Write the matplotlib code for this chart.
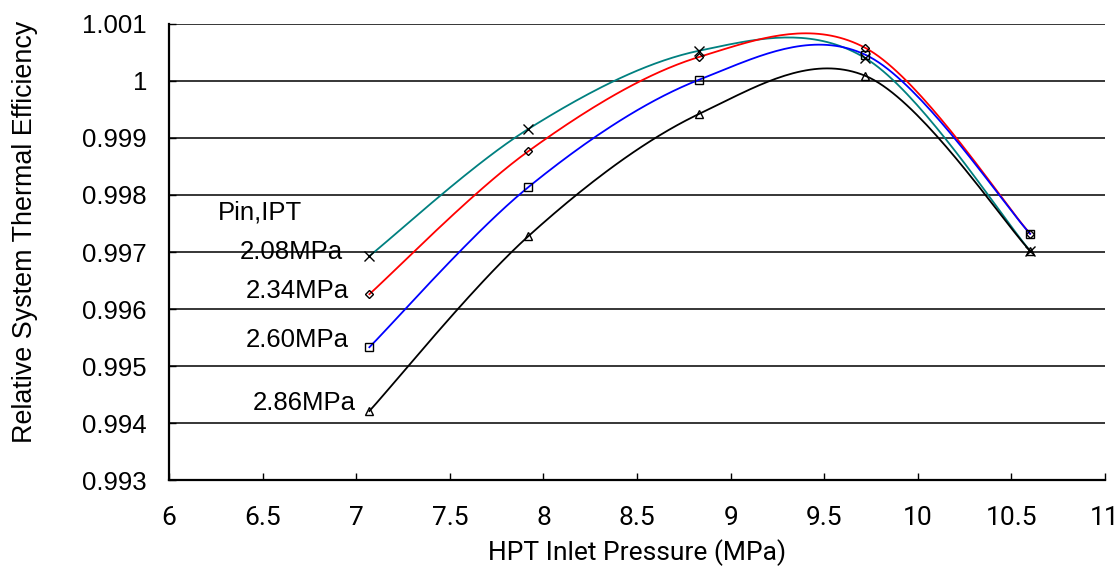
import numpy as np
import matplotlib
matplotlib.use("Agg")
import matplotlib.pyplot as plt
from matplotlib import font_manager

# HPT inlet pressure (MPa)
pressure = [7.07, 7.92, 8.83, 9.72, 10.60]

# Relative system thermal efficiency for each IPT inlet pressure
eff_208 = [0.99693, 0.99916, 1.00053, 1.00040, 0.99702]
eff_234 = [0.99626, 0.99877, 1.00042, 1.00058, 0.99732]
eff_260 = [0.99533, 0.99814, 1.00002, 1.00046, 0.99732]
eff_286 = [0.99421, 0.99728, 0.99942, 1.00009, 0.99702]

series_labels = ["2.08MPa", "2.34MPa", "2.60MPa", "2.86MPa"]
x_ticks = [6, 6.5, 7, 7.5, 8, 8.5, 9, 9.5, 10, 10.5, 11]
y_ticks = [0.993, 0.994, 0.995, 0.996, 0.997, 0.998, 0.999, 1.0, 1.001]
y_ticklabels = ["0.993", "0.994", "0.995", "0.996", "0.997", "0.998", "0.999", "1", "1.001"]


def smooth(xs, ys, n=40):
    """Catmull-Rom style smoothing (Bezier segments) through the given points."""
    p = np.column_stack([xs, ys]).astype(float)
    pts = np.vstack([p[0], p, p[-1]])
    out = []
    t = np.linspace(0, 1, n)
    for i in range(1, len(pts) - 2):
        p0, p1, p2, p3 = pts[i - 1], pts[i], pts[i + 1], pts[i + 2]
        c1 = p1 + (p2 - p0) / 6.0
        c2 = p2 - (p3 - p1) / 6.0
        seg = ((1 - t) ** 3)[:, None] * p1 + (3 * (1 - t) ** 2 * t)[:, None] * c1 \
            + (3 * (1 - t) * t ** 2)[:, None] * c2 + (t ** 3)[:, None] * p2
        out.append(seg if i == 1 else seg[1:])
    s = np.vstack(out)
    return s[:, 0], s[:, 1]


installed = {f.name for f in font_manager.fontManager.ttflist}
narrow = "Liberation Sans Narrow" if "Liberation Sans Narrow" in installed else "Roboto"

plt.rcParams["font.family"] = ["Liberation Sans", "DejaVu Sans"]

fig = plt.figure(figsize=(11.2, 5.67), dpi=100)
ax = fig.add_axes([0.151, 0.1534, 0.8356, 0.8043])

styles = [
    (eff_208, "#008080", "x", 7),
    (eff_234, "#ff0000", "D", 4.5),
    (eff_260, "#0000ff", "s", 6),
    (eff_286, "#000000", "^", 6),
]

for ys, color, marker, ms in styles:
    sx, sy = smooth(pressure, ys)
    ax.plot(sx, sy, color=color, lw=1.3, zorder=3)
    ax.plot(pressure, ys, linestyle="none", marker=marker, ms=ms,
            mfc="none", mec="black", mew=1.0, zorder=4)

ax.set_xlim(6, 11)
ax.set_ylim(0.993, 1.001)
ax.set_xticks(x_ticks)
ax.set_xticklabels([f"{v:g}" for v in x_ticks], family=[narrow, "DejaVu Sans"], fontsize=19)
ax.set_yticks(y_ticks)
ax.set_yticklabels(y_ticklabels, fontsize=18.5)
ax.tick_params(axis="both", direction="in", length=5, width=1)
ax.tick_params(axis="y", pad=16)
ax.tick_params(axis="x", pad=19)

for y in y_ticks[1:]:
    ax.axhline(y, color="black", lw=1.1, zorder=1)

for side in ("top", "right"):
    ax.spines[side].set_visible(False)
for side in ("left", "bottom"):
    ax.spines[side].set_linewidth(1.6)

ax.set_xlabel("HPT Inlet Pressure (MPa)", fontsize=19,
              family=[narrow, "DejaVu Sans"], labelpad=6)
ax.set_ylabel("Relative System Thermal Efficiency", fontsize=19.4)
ax.yaxis.set_label_coords(-0.140, 0.544)

# Series labels to the left of the first point
offsets = [(-19, 3), (-15, 2), (-15, 5), (-10, 6)]
for ys, lab, off in zip([eff_208, eff_234, eff_260, eff_286], series_labels, offsets):
    ax.annotate(lab, xy=(pressure[0], ys[0]), xytext=off, textcoords="offset points",
                ha="right", va="center", fontsize=18.5)
ax.annotate("Pin,IPT", xy=(pressure[0], eff_208[0]), xytext=(-109, 31),
            textcoords="offset points", ha="left", va="center", fontsize=18.5)

fig.savefig("out.png", dpi=100)
